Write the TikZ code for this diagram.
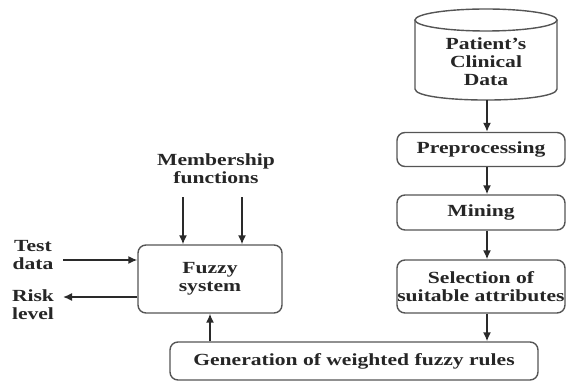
\documentclass[tikz,border=0pt]{standalone}
\usepackage{fontspec}
\setmainfont{Liberation Serif}[FakeStretch=1.27]
\usetikzlibrary{arrows.meta}
\definecolor{boxc}{HTML}{555555}
\definecolor{arrc}{HTML}{2A2A2A}
\tikzset{
  lbl/.style={font=\fontsize{17}{18}\selectfont\bfseries, align=center, inner sep=0pt, text=black!85},
  stepbox/.style={lbl, draw=boxc, line width=1.4pt, rounded corners=8pt},
  arr/.style={draw=arrc, line width=1.5pt, -{Latex[length=9pt,width=8pt]}},
}
\begin{document}
\begin{tikzpicture}[x=1pt,y=-1pt]
\useasboundingbox (0,0) rectangle (580,382);
% cylinder
\draw[boxc, line width=1.4pt] (415,20) -- (415,89) .. controls (415,103.7) and (557,103.7) .. (557,89) -- (557,20);
\draw[boxc, line width=1.4pt] (486,20) ellipse[x radius=71, y radius=11];
\node[lbl] (db) at (486,62) {Patient's\\Clinical\\Data};
\coordinate (dbbot) at (487,100);
% right column
\node[stepbox, minimum width=168pt, minimum height=34pt] (pre) at (481,149.5) {Preprocessing};
\node[stepbox, minimum width=168pt, minimum height=35pt] (mine) at (481,212.5) {Mining};
\node[stepbox, minimum width=168pt, minimum height=53pt] (sel) at (481,286.5) {Selection of\\suitable attributes};
\node[stepbox, minimum width=368pt, minimum height=38pt] (gen) at (354,361) {Generation of weighted fuzzy rules};
% fuzzy
\node[stepbox, minimum width=144pt, minimum height=68pt] (fz) at (210,279) {Fuzzy\\system};
\node[lbl] (mf) at (216,169) {Membership\\functions};
\node[lbl] (td) at (33,255.5) {Test\\data};
\node[lbl] (rl) at (33,304.5) {Risk\\level};
\coordinate (m1) at (183,197);
\coordinate (m2) at (242,197);
\coordinate (tin) at (63,260);
\coordinate (rout) at (63,297);
% arrows
\draw[arr] (dbbot) -- (dbbot |- pre.north);
\draw[arr] (pre.south -| dbbot) -- (mine.north -| dbbot);
\draw[arr] (mine.south -| dbbot) -- (sel.north -| dbbot);
\draw[arr] (sel.south -| dbbot) -- (gen.north -| dbbot);
\draw[arr] (gen.north -| fz.south) -- (fz.south);
\draw[arr] (m1) -- (m1 |- fz.north);
\draw[arr] (m2) -- (m2 |- fz.north);
\draw[arr] (tin) -- (tin -| fz.west);
\draw[arr] (rout -| fz.west) -- (rout);
\end{tikzpicture}
\end{document}
